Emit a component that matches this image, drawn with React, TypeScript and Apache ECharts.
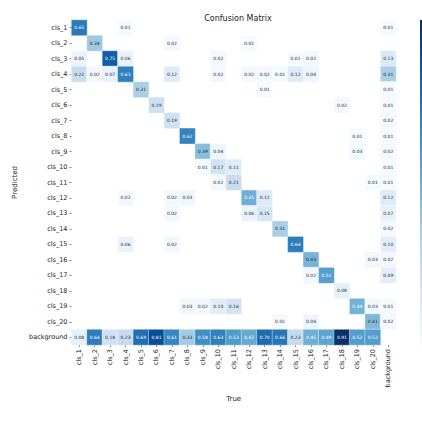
import React, { useEffect, useRef } from "react";
import * as echarts from "echarts";

const classes = [
  "cls_1", "cls_2", "cls_3", "cls_4", "cls_5", "cls_6", "cls_7", "cls_8", "cls_9", "cls_10",
  "cls_11", "cls_12", "cls_13", "cls_14", "cls_15", "cls_16", "cls_17", "cls_18", "cls_19", "cls_20",
  "background",
];

// Each row: predicted class; each column: true class (0 = empty cell)
const row_cls_1 = [0.65, 0, 0, 0.01, 0, 0, 0, 0, 0, 0, 0, 0, 0, 0, 0, 0, 0, 0, 0, 0, 0.01];
const row_cls_2 = [0, 0.34, 0, 0, 0, 0, 0.02, 0, 0, 0, 0, 0.01, 0, 0, 0, 0, 0, 0, 0, 0, 0];
const row_cls_3 = [0.05, 0, 0.75, 0.06, 0, 0, 0, 0, 0, 0.02, 0, 0, 0, 0, 0.01, 0.02, 0, 0, 0, 0, 0.13];
const row_cls_4 = [0.22, 0.02, 0.07, 0.63, 0, 0, 0.12, 0, 0, 0.02, 0, 0.02, 0.02, 0.01, 0.12, 0.04, 0, 0, 0, 0, 0.31];
const row_cls_5 = [0, 0, 0, 0, 0.31, 0, 0, 0, 0, 0, 0, 0, 0.01, 0, 0, 0, 0, 0, 0, 0, 0.01];
const row_cls_6 = [0, 0, 0, 0, 0, 0.19, 0, 0, 0, 0, 0, 0, 0, 0, 0, 0, 0, 0.02, 0, 0, 0.01];
const row_cls_7 = [0, 0, 0, 0, 0, 0, 0.19, 0, 0, 0, 0, 0, 0, 0, 0, 0, 0, 0, 0, 0, 0.02];
const row_cls_8 = [0, 0, 0, 0, 0, 0, 0, 0.62, 0, 0, 0, 0, 0, 0, 0, 0, 0, 0, 0.01, 0, 0.01];
const row_cls_9 = [0, 0, 0, 0, 0, 0, 0, 0, 0.39, 0.04, 0, 0, 0, 0, 0, 0, 0, 0, 0.03, 0, 0.02];
const row_cls_10 = [0, 0, 0, 0, 0, 0, 0, 0, 0.01, 0.17, 0.11, 0, 0, 0, 0, 0, 0, 0, 0, 0, 0.01];
const row_cls_11 = [0, 0, 0, 0, 0, 0, 0, 0, 0, 0.02, 0.21, 0, 0, 0, 0, 0, 0, 0, 0, 0.01, 0.01];
const row_cls_12 = [0, 0, 0, 0.02, 0, 0, 0.02, 0.03, 0, 0, 0, 0.45, 0.12, 0, 0, 0, 0, 0, 0, 0, 0.12];
const row_cls_13 = [0, 0, 0, 0, 0, 0, 0.02, 0, 0, 0, 0, 0.06, 0.15, 0, 0, 0, 0, 0, 0, 0, 0.07];
const row_cls_14 = [0, 0, 0, 0, 0, 0, 0, 0, 0, 0, 0, 0, 0, 0.31, 0, 0, 0, 0, 0, 0, 0.02];
const row_cls_15 = [0, 0, 0, 0.06, 0, 0, 0.02, 0, 0, 0, 0, 0, 0, 0, 0.64, 0, 0, 0, 0, 0, 0.1];
const row_cls_16 = [0, 0, 0, 0, 0, 0, 0, 0, 0, 0, 0, 0, 0, 0, 0, 0.43, 0, 0, 0, 0.03, 0.02];
const row_cls_17 = [0, 0, 0, 0, 0, 0, 0, 0, 0, 0, 0, 0, 0, 0, 0, 0.02, 0.51, 0, 0, 0, 0.09];
const row_cls_18 = [0, 0, 0, 0, 0, 0, 0, 0, 0, 0, 0, 0, 0, 0, 0, 0, 0, 0.08, 0, 0, 0];
const row_cls_19 = [0, 0, 0, 0, 0, 0, 0, 0.03, 0.02, 0.1, 0.16, 0, 0, 0, 0, 0, 0, 0, 0.44, 0.03, 0.01];
const row_cls_20 = [0, 0, 0, 0, 0, 0, 0, 0, 0, 0, 0, 0, 0, 0.01, 0, 0.04, 0, 0, 0, 0.41, 0.02];
const row_background = [0.08, 0.64, 0.18, 0.23, 0.69, 0.81, 0.61, 0.33, 0.58, 0.63, 0.53, 0.47, 0.7, 0.66, 0.23, 0.45, 0.49, 0.91, 0.52, 0.52, 0];

const rows = [
  row_cls_1, row_cls_2, row_cls_3, row_cls_4, row_cls_5, row_cls_6, row_cls_7, row_cls_8, row_cls_9, row_cls_10,
  row_cls_11, row_cls_12, row_cls_13, row_cls_14, row_cls_15, row_cls_16, row_cls_17, row_cls_18, row_cls_19, row_cls_20,
  row_background,
];

const BLUES = ["#f7fbff", "#deebf7", "#c6dbef", "#9ecae1", "#6baed6", "#4292c6", "#2171b5", "#08519c", "#08306b"];
const VMAX = 0.91;
const FONT = "DejaVu Sans";

export default function App() {
  const ref = useRef<HTMLDivElement>(null);
  useEffect(() => {
    if (!ref.current) return;
    const chart = echarts.init(ref.current, null, { renderer: "svg" });
    const data: any[] = [];
    rows.forEach((r, yi) => {
      r.forEach((v, xi) => {
        if (v > 0) {
          data.push({
            value: [xi, yi, v],
            label: { color: v >= 0.44 ? "#ffffff" : "#262626" },
          });
        }
      });
    });
    chart.setOption({
      animation: false,
      backgroundColor: "#ffffff",
      title: {
        text: "Confusion Matrix",
        left: 233,
        textAlign: "center",
        top: 9,
        textStyle: { fontFamily: FONT, fontSize: 8, fontWeight: "normal", color: "#222" },
      },
      grid: { left: 71.5, top: 20, width: 324.5, height: 325, containLabel: false },
      xAxis: {
        type: "category",
        data: classes,
        position: "bottom",
        name: "True",
        nameLocation: "middle",
        nameGap: 48,
        nameTextStyle: { fontFamily: FONT, fontSize: 7, color: "#222" },
        axisLine: { show: false },
        axisTick: { show: true, length: 2, alignWithLabel: true, lineStyle: { color: "#333", width: 0.6 } },
        axisLabel: { rotate: 90, fontFamily: FONT, fontSize: 6.5, color: "#222", margin: 4, interval: 0 },
        splitArea: { show: false },
      },
      yAxis: {
        type: "category",
        data: classes,
        inverse: true,
        name: "Predicted",
        nameLocation: "middle",
        nameRotate: 90,
        nameGap: 40,
        nameTextStyle: { fontFamily: FONT, fontSize: 7, color: "#222" },
        axisLine: { show: false },
        axisTick: { show: true, length: 2, alignWithLabel: true, lineStyle: { color: "#333", width: 0.6 } },
        axisLabel: { fontFamily: FONT, fontSize: 6.5, color: "#222", margin: 4, interval: 0 },
      },
      visualMap: {
        show: false,
        min: 0,
        max: VMAX,
        dimension: 2,
        inRange: { color: BLUES },
      },
      graphic: [
        {
          type: "rect",
          shape: { x: 420, y: 20, width: 2, height: 325 },
          style: {
            fill: new echarts.graphic.LinearGradient(0, 1, 0, 0,
              BLUES.map((c, i) => ({ offset: i / (BLUES.length - 1), color: c }))),
          },
        },
      ],
      series: [
        {
          type: "heatmap",
          data,
          itemStyle: { borderColor: "#ffffff", borderWidth: 0.4 },
          label: { show: true, fontFamily: FONT, fontSize: 4.5, formatter: (p: any) => p.value[2].toFixed(2) },
        },
      ],
    });
    return () => chart.dispose();
  }, []);
  return <div ref={ref} style={{ width: 422, height: 430, position: "absolute", left: 0, top: 0 }} />;
}
